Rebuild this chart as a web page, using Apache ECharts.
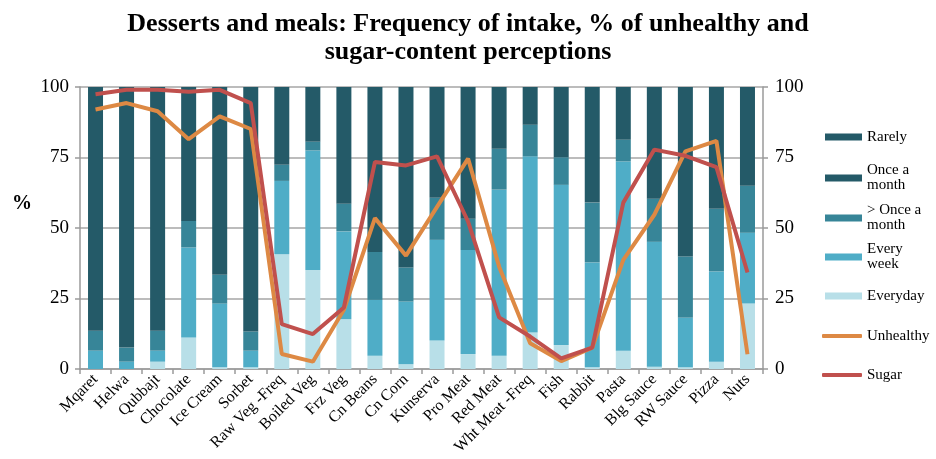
<!DOCTYPE html>
<html lang="en">
<head>
    <meta charset="UTF-8">
    <title>Desserts and meals</title>
    <script src="https://cdn.jsdelivr.net/npm/echarts@6/dist/echarts.min.js"></script>
    <style>
        html, body { margin: 0; padding: 0; background: #fff; }
        #app { width: 936px; height: 459px; }
    </style>
</head>
<body>
    <div id="app"></div>
    <script>
        let categories = ['Mqaret', 'Helwa', 'Qubbajt', 'Chocolate', 'Ice Cream', 'Sorbet', 'Raw Veg -Freq',
            'Boiled Veg', 'Frz Veg', 'Cn Beans', 'Cn Corn', 'Kunserva', 'Pro Meat', 'Red Meat', 'Wht Meat -Freq',
            'Fish', 'Rabbit', 'Pasta', 'Blg Sauce', 'RW Sauce', 'Pizza', 'Nuts']

        // stacked frequency shares (%), bottom to top
        let everyday = [0, 0, 2.6, 11.2, 0.6, 0.6, 40.7, 35.1, 17.6, 4.7, 1.7, 10.1, 5.3, 4.7, 12.9, 8.5, 0.6, 6.5, 0.8, 0.6, 2.6, 23.2]
        let everyWeek = [6.5, 2.6, 3.9, 31.9, 22.6, 5.9, 26.0, 42.4, 31.2, 19.8, 22.2, 35.7, 36.9, 58.9, 62.5, 56.8, 37.2, 67.1, 44.3, 17.6, 32.0, 25.1]
        let moreThanMonthly = [7.1, 5.0, 7.1, 9.4, 10.2, 6.8, 5.7, 3.1, 9.8, 17.0, 12.1, 14.9, 11.1, 14.5, 11.2, 9.8, 21.2, 7.7, 15.3, 21.7, 22.2, 16.7]
        // "Once a month" and "Rarely" share one colour in the picture, so the dark part can't be split
        let onceMonth = [0, 0, 0, 0, 0, 0, 0, 0, 0, 0, 0, 0, 0, 0, 0, 0, 0, 0, 0, 0, 0, 0]
        let rarely = [86.4, 92.4, 86.4, 47.5, 66.6, 86.7, 27.6, 19.4, 41.4, 58.5, 64.0, 39.3, 46.7, 21.9, 13.4, 24.9, 41.0, 18.7, 39.6, 60.1, 43.2, 35.0]

        // perceptions (%)
        let unhealthy = [92, 94.3, 91.4, 81.5, 89.6, 85.1, 5.3, 2.6, 21, 53.5, 40.2, 57.5, 74.6, 36.3, 9.1, 2.8, 7.6, 38.7, 54.7, 77.2, 80.9, 5.2]
        let sugar = [97.4, 99, 99, 98.3, 99, 94.3, 15.9, 12.4, 21.8, 73.4, 72.2, 75.4, 52.3, 18.3, 11.5, 3.8, 7.6, 59, 77.8, 75.6, 71.6, 34.2]

        let yTicks = [0, 25, 50, 75, 100]

        let serif = 'Liberation Serif'
        let dark = '#245a68'

        let mCharts = echarts.init(document.getElementById('app'))

        function bar(name, data, color) {
            return {
                name: name, type: 'bar', stack: 'freq', data: data,
                barWidth: 15,
                itemStyle: { color: color },
                emphasis: { disabled: true }
            }
        }
        function line(name, data, color) {
            return {
                name: name, type: 'line', yAxisIndex: 1, data: data,
                symbol: 'none',
                lineStyle: { color: color, width: 4 },
                itemStyle: { color: color },
                emphasis: { disabled: true }
            }
        }

        // one legend per entry so the rows sit at even spacing like the original
        let legendItems = [
            { name: 'Rarely', label: 'Rarely', y: 138, lines: 1 },
            { name: 'Once a month', label: 'Once a\nmonth', y: 178, lines: 2 },
            { name: '> Once a month', label: '> Once a\nmonth', y: 218, lines: 2 },
            { name: 'Every week', label: 'Every\nweek', y: 257, lines: 2 },
            { name: 'Everyday', label: 'Everyday', y: 297, lines: 1 },
            { name: 'Unhealthy', label: 'Unhealthy', y: 337, lines: 1, isLine: true },
            { name: 'Sugar', label: 'Sugar', y: 376, lines: 1, isLine: true }
        ]
        let lh = 15
        let legends = legendItems.map(it => ({
            data: [{ name: it.name, icon: it.isLine ? 'roundRect' : 'rect' }],
            orient: 'vertical',
            left: it.isLine ? 822 : 825,
            top: it.lines === 2 ? it.y - 1.5 * lh : it.y - lh / 2 - 1,
            itemWidth: it.isLine ? 40 : 37,
            itemHeight: it.isLine ? 4 : 7,
            itemGap: 0,
            padding: 0,
            selectedMode: false,
            formatter: () => it.label,
            textStyle: {
                fontFamily: serif, fontSize: 15, color: '#000', lineHeight: lh,
                padding: it.lines === 2 ? [lh, 0, 0, 0] : 0
            }
        }))

        let axisCommon = {
            type: 'value', min: 0, max: 100, interval: 25,
            axisLine: { show: true, lineStyle: { color: '#9a9a9a', width: 1.5 } },
            axisTick: { show: true, length: 5, lineStyle: { color: '#9a9a9a', width: 1.5 } },
            splitLine: { show: false },
            axisLabel: {
                fontFamily: serif, fontSize: 19, color: '#000',
                formatter: v => yTicks.includes(v) ? String(v) : ''
            }
        }

        let option = {
            animation: false,
            title: {
                text: 'Desserts and meals: Frequency of intake, % of unhealthy and\nsugar-content perceptions',
                left: 'center',
                top: 5,
                textStyle: { fontFamily: serif, fontWeight: 'bold', fontSize: 26, lineHeight: 28, color: '#000' }
            },
            legend: legends,
            grid: { left: 80, right: 173, top: 87, bottom: 90 },
            xAxis: {
                type: 'category',
                data: categories,
                axisLine: { lineStyle: { color: '#9a9a9a', width: 1.5 } },
                axisTick: { show: true, length: 5, lineStyle: { color: '#9a9a9a', width: 1.5 } },
                axisLabel: { rotate: 45, interval: 0, margin: 8, fontFamily: serif, fontSize: 16, color: '#000' }
            },
            yAxis: [
                Object.assign({}, axisCommon, {
                    position: 'left',
                    splitLine: { show: true, lineStyle: { color: '#a6a6a6', width: 1.5 } },
                    axisLabel: Object.assign({}, axisCommon.axisLabel, { margin: 11 })
                }),
                Object.assign({}, axisCommon, {
                    position: 'right',
                    axisLabel: Object.assign({}, axisCommon.axisLabel, { margin: 12 })
                })
            ],
            graphic: [{
                type: 'text', left: 12, top: 194,
                style: { text: '%', fontFamily: serif, fontWeight: 'bold', fontSize: 20, fill: '#000' }
            }],
            series: [
                bar('Everyday', everyday, '#b8dfe8'),
                bar('Every week', everyWeek, '#4fadc7'),
                bar('> Once a month', moreThanMonthly, '#378598'),
                bar('Once a month', onceMonth, dark),
                bar('Rarely', rarely, dark),
                line('Unhealthy', unhealthy, '#dd8944'),
                line('Sugar', sugar, '#c0504d')
            ]
        }
        mCharts.setOption(option)
    </script>
</body>
</html>
